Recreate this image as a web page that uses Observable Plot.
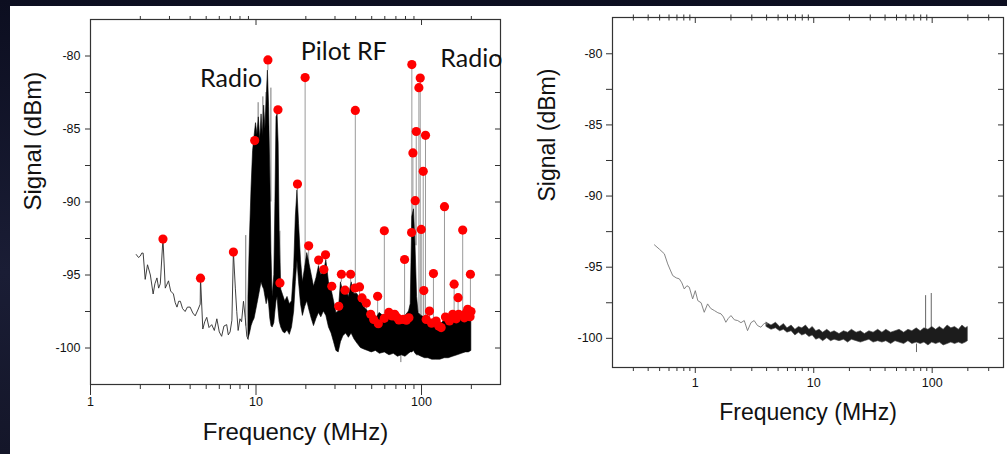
<!DOCTYPE html>
<html><head><meta charset="utf-8">
<script src="https://cdn.jsdelivr.net/npm/d3@7"></script>
<script src="https://cdn.jsdelivr.net/npm/@observablehq/plot@0.6"></script>
<style>
html,body{margin:0;padding:0;}
body{width:1007px;height:454px;background:linear-gradient(180deg,#0c0e20,#1a1d35 60%,#141629);position:relative;overflow:hidden;font-family:"Liberation Sans",Arial,sans-serif;}
#bg{position:absolute;left:10px;top:6px;width:997px;height:448px;background:#fff;}
#left{position:absolute;left:0;top:0;}
#right{position:absolute;left:505px;top:0;}
svg{overflow:visible;}
</style></head><body>
<div id="bg"></div><div id="left"></div><div id="right"></div>
<script>
// ---------- LEFT PANEL DATA ----------
const traceF = [1.89, 1.95, 2.0, 2.04, 2.08, 2.14, 2.21, 2.3, 2.39, 2.45, 2.52, 2.58, 2.64, 2.74, 2.83, 2.96, 3.05, 3.17, 3.25, 3.33, 3.41, 3.49, 3.6, 3.73, 3.85, 4.0, 4.15, 4.29, 4.45, 4.6, 4.62, 4.77, 4.9, 5.04, 5.2, 5.4, 5.6, 5.8, 6.0, 6.2, 6.4, 6.65, 6.8, 6.97, 7.15, 7.3, 7.5, 7.65, 7.8, 8.0, 8.18, 8.4, 8.6, 8.8, 8.97];
const traceDb = [-93.6, -93.8, -93.7, -93.5, -93.5, -95.3, -94.3, -95.0, -96.3, -95.6, -95.2, -95.9, -95.6, -92.5, -95.9, -95.4, -96.1, -96.3, -96.9, -97.2, -96.8, -96.8, -97.3, -97.5, -97.2, -97.2, -97.6, -97.8, -97.4, -97.0, -95.2, -98.7, -98.2, -97.9, -98.6, -98.4, -98.8, -98.0, -98.9, -99.2, -98.5, -98.4, -99.1, -98.9, -98.1, -93.4, -95.9, -97.5, -98.8, -98.0, -98.2, -96.8, -97.9, -99.2, -99.4];

const envF = [9.0, 9.2, 9.4, 9.6, 9.8, 10.0, 10.2, 10.4, 10.6, 10.8,
  11.0, 11.2, 11.4, 11.6, 11.8, 12.0, 12.2, 12.4, 12.6, 12.9,
  13.1, 13.3, 13.5, 13.7, 13.9, 14.2, 14.6, 15.0, 15.5, 16.0,
  16.5, 17.0, 17.4, 17.8, 18.2, 18.7, 19.2, 19.8, 20.4, 21.0,
  21.7, 22.4, 23.2, 24.0, 24.8, 25.7, 26.6, 27.6, 28.6, 29.6,
  30.6, 31.6, 32.6, 33.7, 35.0, 36.4, 37.8, 39.3, 41.0, 43.0,
  45.0, 47.5, 50, 53, 56, 60, 64, 68, 72, 76,
  80, 84, 86, 88, 90, 92, 94, 96, 100, 105,
  110, 116, 122, 130, 138, 146, 155, 165, 175, 185,
  193, 200];
const envHi = [-96.5, -92.3, -89.0, -86.5, -85.5, -84.6, -85.4, -84.2, -85.8, -84.0,
  -85.5, -83.4, -85.0, -83.0, -81.0, -83.5, -88.0, -93.5, -96.5, -95.0,
  -90.0, -84.2, -84.0, -86.0, -92.0, -96.0, -96.4, -96.8, -96.5, -97.0,
  -96.8, -94.5, -91.0, -89.2, -91.5, -94.0, -95.5, -94.5, -93.5, -94.2,
  -95.0, -95.8, -95.2, -94.4, -95.0, -94.8, -94.0, -95.5, -96.0, -96.8,
  -97.6, -97.5, -95.5, -96.2, -96.0, -96.5, -95.5, -96.3, -96.3, -96.8,
  -97.2, -97.5, -97.8, -98.0, -97.6, -97.9, -97.7, -97.8, -98.0, -97.9,
  -97.8, -97.5, -97.0, -91.0, -90.5, -93.0, -96.5, -97.6, -97.8, -97.9,
  -98.0, -98.2, -98.2, -98.4, -98.1, -98.2, -98.0, -98.1, -97.9, -97.8,
  -97.7, -97.8];
const envLo = [-99.4, -99.0, -98.5, -98.2, -98.0, -97.5, -97.0, -96.5, -96.0, -95.5,
  -95.8, -96.0, -96.5, -97.0, -96.5, -97.0, -98.0, -98.5, -98.6, -98.3,
  -97.5, -96.8, -96.5, -97.5, -98.2, -98.6, -98.9, -99.0, -98.8, -99.1,
  -98.6, -97.5, -95.5, -94.0, -95.5, -97.0, -97.8, -97.2, -96.8, -97.4,
  -98.0, -98.5, -98.0, -97.6, -97.9, -97.5, -97.8, -98.6, -99.0, -99.6,
  -100.2, -100.3, -99.6, -99.2, -99.0, -99.3, -99.0, -99.4, -99.7, -100.0,
  -100.1, -100.2, -100.3, -100.2, -100.4, -100.3, -100.5, -100.4, -100.6, -100.5,
  -100.6, -100.4, -100.3, -100.3, -100.2, -100.4, -100.5, -100.5, -100.6, -100.7,
  -100.7, -100.8, -100.8, -100.8, -100.7, -100.7, -100.6, -100.5, -100.4, -100.3,
  -100.3, -100.2];

const peakF = [2.74, 4.62, 7.3, 9.82, 11.8, 13.57, 13.95, 17.8, 19.8, 20.8,
  23.9, 26.3, 25.7, 28.7, 31.6, 32.8, 34.5, 37.3, 39.8, 39.6,
  42.2, 43.7, 46.4, 49.3, 51.4, 54.8, 54.3, 59.6, 59.6, 63.5,
  66.5, 68.8, 71, 73, 79, 77.5, 81, 83.9, 87.4, 87.1,
  88.7, 91.6, 92.9, 98.2, 96.4, 99.6, 102.4, 105.7, 103.2, 106.7,
  111.7, 115, 118, 122.5, 127, 131.4, 137.6, 139.5, 147.5, 154.4,
  157.4, 162, 166.3, 167.8, 177.3, 181.5, 186, 190, 197.4, 196.4,
  199];
const peakDb = [-92.54, -95.22, -93.43, -85.79, -80.27, -83.68, -95.54, -88.77, -81.48, -93.0,
  -93.98, -93.62, -94.63, -95.77, -97.14, -94.95, -96.04, -94.95, -83.73, -95.89,
  -95.82, -96.57, -96.92, -97.69, -98.04, -98.34, -96.46, -91.97, -97.97, -97.56,
  -97.8, -97.69, -97.9, -98.08, -93.94, -98.04, -98.1, -97.93, -80.59, -92.09,
  -86.64, -89.91, -85.17, -81.51, -82.17, -91.88, -87.9, -85.43, -96.07, -98.04,
  -97.47, -98.3, -94.9, -98.15, -98.5, -98.6, -90.32, -97.88, -98.15, -97.69,
  -95.63, -98.0, -96.55, -97.69, -91.92, -97.93, -97.6, -97.35, -94.95, -97.86,
  -97.5];

const spikeF = [8.67, 10.3, 11.0, 11.5, 12.3, 75.0];
const spikeTop = [-92.3, -83.2, -82.8, -82.5, -82.2, -101.0];
const spikeBase = [-98.5, -90.0, -90.0, -90.0, -90.0, -100.4];

const annoText = ["Radio", "Pilot RF", "Radio"];
const annoF = [7.07, 33.9, 200];
const annoDb = [-81.6, -79.75, -80.23];

const xMajorL = [1, 10, 100];
const xMinorL = [2, 3, 4, 5, 6, 7, 8, 9, 20, 30, 40, 50, 60, 70, 80, 90, 200];
const yMajor = [-80, -85, -90, -95, -100];
const yMinor = [-82.5, -87.5, -92.5, -97.5];

// ---------- RIGHT PANEL DATA ----------
const rTraceF = [0.452, 0.5, 0.548, 0.585, 0.615, 0.645, 0.69, 0.733, 0.77, 0.807, 0.85, 0.89, 0.95, 1.0, 1.05, 1.12, 1.19, 1.27, 1.35, 1.45, 1.55, 1.65, 1.73, 1.81, 1.9, 2.0, 2.14, 2.28, 2.43, 2.59, 2.76, 2.95, 3.14, 3.35, 3.58, 3.82, 4.08];
const rTraceDb = [-93.43, -93.75, -94.06, -94.77, -95.2, -95.59, -95.75, -95.82, -96.1, -96.53, -96.3, -96.41, -97.23, -96.65, -97.35, -97.5, -98.17, -97.58, -97.9, -98.05, -98.2, -98.28, -98.5, -98.87, -98.6, -98.4, -98.7, -98.75, -98.9, -98.75, -99.46, -98.9, -98.75, -99.1, -99.22, -98.95, -98.99];
const rEnvF = [4.0, 4.4, 4.8, 5.2, 5.6, 6.0, 6.5, 7.0, 7.5, 8.0,
  8.6, 9.2, 9.8, 10.5, 11.2, 12, 13, 14, 15, 16.5,
  18, 19.5, 21, 23, 25, 27, 29.5, 32, 35, 38,
  41, 45, 49, 53, 58, 63, 68, 74, 80, 86,
  93, 100, 108, 116, 125, 135, 145, 156, 168, 180,
  192, 200];
const rEnvHi = [-98.9, -99.1, -98.9, -99.2, -99.0, -99.3, -99.1, -99.4, -99.2, -99.3,
  -99.1, -99.4, -99.2, -99.5, -99.4, -99.6, -99.4, -99.6, -99.5, -99.7,
  -99.5, -99.6, -99.4, -99.6, -99.5, -99.7, -99.5, -99.6, -99.4, -99.6,
  -99.4, -99.6, -99.5, -99.4, -99.6, -99.4, -99.5, -99.3, -99.5, -99.3,
  -99.4, -99.2, -99.4, -99.2, -99.4, -99.1, -99.3, -99.2, -99.4, -99.1,
  -99.3, -99.2];
const rEnvLo = [-99.2, -99.4, -99.3, -99.5, -99.4, -99.6, -99.5, -99.8, -99.6, -99.8,
  -99.7, -99.9, -99.8, -100.1, -100.0, -100.2, -100.0, -100.2, -100.1, -100.2,
  -100.1, -100.3, -100.1, -100.2, -100.3, -100.2, -100.1, -100.3, -100.2, -100.3,
  -100.2, -100.4, -100.2, -100.3, -100.4, -100.2, -100.4, -100.3, -100.4, -100.3,
  -100.5, -100.3, -100.4, -100.3, -100.5, -100.4, -100.3, -100.4, -100.3, -100.4,
  -100.3, -100.2];
const rSpikeF = [88, 98.2, 73.7];
const rSpikeTop = [-97.0, -96.85, -101.0];
const rSpikeBase = [-99.4, -99.4, -100.4];

const xMajorR = [1, 10, 100];
const xMinorR = [0.3, 0.4, 0.5, 0.6, 0.7, 0.8, 0.9, 2, 3, 4, 5, 6, 7, 8, 9, 20, 30, 40, 50, 60, 70, 80, 90, 200, 300];

// ---------- checks ----------
function chk(a, b, n) { if (a.length !== b.length) throw new Error("length mismatch " + n + ": " + a.length + " vs " + b.length); }
chk(traceF, traceDb, "trace"); chk(envF, envHi, "envHi"); chk(envF, envLo, "envLo");
chk(peakF, peakDb, "peaks"); chk(rTraceF, rTraceDb, "rtrace"); chk(rEnvF, rEnvHi, "rEnvHi"); chk(rEnvF, rEnvLo, "rEnvLo");

// ---------- tables ----------
const trace = traceF.map((f, i) => ({f, db: traceDb[i]}));
const env = envF.map((f, i) => ({f, lo: envLo[i], hi: envHi[i]}));
function envTopAt(f) {
  let best = 0;
  for (let i = 1; i < envF.length; i++)
    if (Math.abs(Math.log(envF[i] / f)) < Math.abs(Math.log(envF[best] / f))) best = i;
  return envHi[best];
}
const peaks = peakF.map((f, i) => ({f, db: peakDb[i], base: f >= 9 ? envTopAt(f) : peakDb[i]}));
const spikes = spikeF.map((f, i) => ({f, top: spikeTop[i], base: spikeBase[i]}));
const annos = annoText.map((t, i) => ({t, f: annoF[i], db: annoDb[i]}));

const rTrace = rTraceF.map((f, i) => ({f, db: rTraceDb[i]}));
const rEnv = rEnvF.map((f, i) => ({f, lo: rEnvLo[i], hi: rEnvHi[i]}));
const rSpikes = rSpikeF.map((f, i) => ({f, top: rSpikeTop[i], base: rSpikeBase[i]}));

const FONT = "Liberation Sans, Arial, sans-serif";
const fmt = d => String(d);

function axesMarks(o) {
  const pw = o.width - o.ml - o.mr, ph = o.height - o.mt - o.mb;
  const marks = [
    Plot.frame({stroke: "#333", strokeWidth: 1.2}),
    Plot.axisX({ticks: o.xMajor, tickSize: o.bigTick, tickPadding: o.xPad, tickFormat: fmt, fontSize: 12.5, label: null, stroke: "#333"}),
    Plot.axisX({ticks: o.xMinor, tickSize: o.smallTick, tickFormat: () => "", label: null, stroke: "#333"}),
    Plot.axisX({anchor: "top", ticks: o.xMinor, tickSize: o.topOut, tickFormat: () => "", label: null, stroke: "#333"}),
    Plot.tickX(o.xMajor, {x: d => d, insetBottom: ph - 6, stroke: "#333"}),
    Plot.axisY({ticks: yMajor, tickSize: o.yTick, tickPadding: o.yPad, tickFormat: fmt, fontSize: 12.5, label: null, stroke: "#333"}),
    Plot.axisY({ticks: yMinor, tickSize: o.yTick, tickFormat: () => "", label: null, stroke: "#333"}),
    Plot.tickY(yMajor.concat(yMinor), {y: d => d, insetLeft: pw - 5, stroke: "#333"}),
    Plot.text(["Signal (dBm)"], {text: d => d, frameAnchor: "left", rotate: -90, dx: -o.yTitleOff, dy: o.yTitleDy, fontSize: o.titleSize, fill: "#111", ariaLabel: "ytitle"}),
    Plot.text(["Frequency (MHz)"], {text: d => d, frameAnchor: "bottom", dy: o.xTitleOff, fontSize: o.titleSize, fill: "#111", ariaLabel: "xtitle"})
  ];
  if (o.topIn) marks.push(Plot.tickX(o.xMinor, {x: d => d, insetBottom: ph - o.topIn, stroke: "#333"}));
  return marks;
}

// ---------- LEFT PLOT ----------
const L = {width: 505, height: 454, ml: 90, mr: 5, mt: 19, mb: 70,
  xMajor: xMajorL, xMinor: xMinorL, bigTick: 11, smallTick: 5, xPad: 2, topOut: 4, topIn: 0,
  yTick: 5, yPad: 5, titleSize: 24, yTitleOff: 57, yTitleDy: 8.5, xTitleOff: 55};

const left = Plot.plot({
  width: L.width, height: L.height, marginLeft: L.ml, marginRight: L.mr, marginTop: L.mt, marginBottom: L.mb,
  x: {type: "log", domain: [1, 300], label: null},
  y: {domain: [-102.5, -77.5], label: null},
  style: {background: "transparent", overflow: "visible", fontFamily: FONT, color: "#111"},
  marks: [
    Plot.ruleX(peaks, {x: "f", y1: "base", y2: "db", stroke: "#9a9a9a", strokeWidth: 1}),
    Plot.ruleX(spikes, {x: "f", y1: "base", y2: "top", stroke: "#777", strokeWidth: 1}),
    Plot.areaY(env, {x: "f", y1: "lo", y2: "hi", fill: "#000", stroke: "#000", strokeWidth: 0.6}),
    Plot.line(trace, {x: "f", y: "db", stroke: "#2a2a2a", strokeWidth: 0.9}),
    Plot.dot(peaks, {x: "f", y: "db", r: 4.6, fill: "#ff0000", stroke: null}),
    ...axesMarks(L),
    Plot.text(annos, {x: "f", y: "db", text: "t", fontSize: 25, fontFamily: "Lato, 'Open Sans', sans-serif", fill: "#111", textAnchor: "middle", lineAnchor: "middle"})
  ]
});
document.getElementById("left").appendChild(left);

// ---------- RIGHT PLOT ----------
const R = {width: 502, height: 454, ml: 107, mr: 4, mt: 17, mb: 87,
  xMajor: xMajorR, xMinor: xMinorR, bigTick: 6, smallTick: 4, xPad: 5, topOut: 3.5, topIn: 3.5,
  yTick: 6, yPad: 4, titleSize: 23, yTitleOff: 65, yTitleDy: 9, xTitleOff: 52};

const right = Plot.plot({
  width: R.width, height: R.height, marginLeft: R.ml, marginRight: R.mr, marginTop: R.mt, marginBottom: R.mb,
  x: {type: "log", domain: [0.2, 400], label: null},
  y: {domain: [-102.05, -77.45], label: null},
  style: {background: "transparent", overflow: "visible", fontFamily: FONT, color: "#111"},
  marks: [
    Plot.ruleX(rSpikes, {x: "f", y1: "base", y2: "top", stroke: "#666", strokeWidth: 1}),
    Plot.areaY(rEnv, {x: "f", y1: "lo", y2: "hi", fill: "#1c1c1c", stroke: "#444", strokeWidth: 0.6}),
    Plot.line(rTrace, {x: "f", y: "db", stroke: "#777", strokeWidth: 0.9}),
    ...axesMarks(R)
  ]
});
document.getElementById("right").appendChild(right);

// letter spacing tweaks for axis titles
d3.select(left).selectAll('g[aria-label="xtitle"] text').style("letter-spacing", "-1.5px");
d3.select(left).selectAll('g[aria-label="ytitle"] text').style("letter-spacing", "0.6px");
d3.select(right).selectAll('g[aria-label="xtitle"] text').style("letter-spacing", "-1.5px");
d3.select(right).selectAll('g[aria-label="ytitle"] text').style("letter-spacing", "0.4px");
</script></body></html>
